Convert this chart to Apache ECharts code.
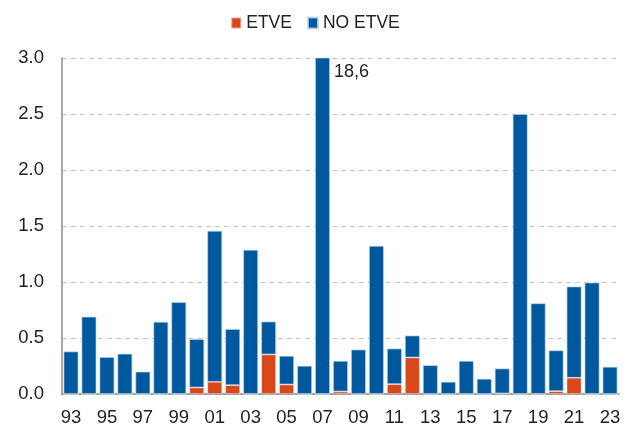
<!DOCTYPE html>
<html>
<head>
<meta charset="utf-8">
<script src="https://cdn.jsdelivr.net/npm/echarts@6/dist/echarts.min.js"></script>
<style>html,body{margin:0;padding:0;background:#fff}#c{width:630px;height:428px}</style>
</head>
<body>
<div id="c"></div>
<script>
const categories = ['93','94','95','96','97','98','99','00','01','02','03','04','05','06','07','08','09','10','11','12','13','14','15','16','17','18','19','20','21','22','23'];
const etve =   [0, 0, 0, 0, 0, 0, 0, 0.058, 0.109, 0.079, 0, 0.353, 0.085, 0, 0, 0.022, 0, 0, 0.088, 0.326, 0, 0, 0, 0, 0.005, 0, 0, 0.025, 0.145, 0, 0];
const total =  [0.38, 0.69, 0.33, 0.36, 0.20, 0.645, 0.82, 0.49, 1.457, 0.58, 1.288, 0.647, 0.341, 0.252, 18.6, 0.296, 0.397, 1.323, 0.406, 0.522, 0.257, 0.109, 0.296, 0.136, 0.228, 2.5, 0.81, 0.39, 0.96, 0.995, 0.243];
const noEtve = total.map((t, i) => +(t - etve[i]).toFixed(3));
const yTicks = ['0.0','0.5','1.0','1.5','2.0','2.5','3.0'];
const labelIndex = 14; // '07' value 18,6 off scale

const font = 'Liberation Sans, Arial, sans-serif';
const chart = echarts.init(document.getElementById('c'), null, {renderer: 'canvas'});
chart.setOption({
  animation: false,
  legend: {
    top: 9, left: 'center',
    itemWidth: 10, itemHeight: 11, itemGap: 15,
    textStyle: {fontFamily: font, fontSize: 17.5, color: '#222'},
    data: [{name: 'ETVE', icon: 'rect'}, {name: 'NO ETVE', icon: 'rect'}]
  },
  grid: {left: 62, right: 11, top: 58, bottom: 34, containLabel: false},
  xAxis: {
    type: 'category', data: categories,
    axisLine: {lineStyle: {color: '#8c8c8c', width: 1.5}},
    axisTick: {show: false},
    axisLabel: {interval: 1, fontFamily: font, fontSize: 18.5, color: '#222', margin: 14}
  },
  yAxis: {
    type: 'value', min: 0, max: 3, interval: 0.5,
    axisLine: {show: true, lineStyle: {color: '#8c8c8c', width: 1.5}},
    axisTick: {show: false},
    axisLabel: {fontFamily: font, fontSize: 18.5, color: '#222', margin: 18,
      formatter: v => yTicks[Math.round(v / 0.5)]},
    splitLine: {lineStyle: {color: '#c8c8c8', type: [5, 4], width: 1.2}}
  },
  series: [
    {
      name: 'ETVE', type: 'bar', stack: 's', data: etve,
      barCategoryGap: '17%',
      itemStyle: {color: '#d9471b', borderColor: 'rgba(255,255,255,0.5)', borderWidth: 0.8}
    },
    {
      name: 'NO ETVE', type: 'bar', stack: 's',
      data: noEtve.map((v, i) => i === labelIndex ? {
        value: v,
        label: {show: true, position: [19, 5], formatter: '18,6', fontFamily: font, fontSize: 18, color: '#222'}
      } : v),
      itemStyle: {color: '#00589f', borderColor: 'rgba(190,215,240,0.8)', borderWidth: 0.8}
    }
  ]
});
</script>
</body>
</html>
